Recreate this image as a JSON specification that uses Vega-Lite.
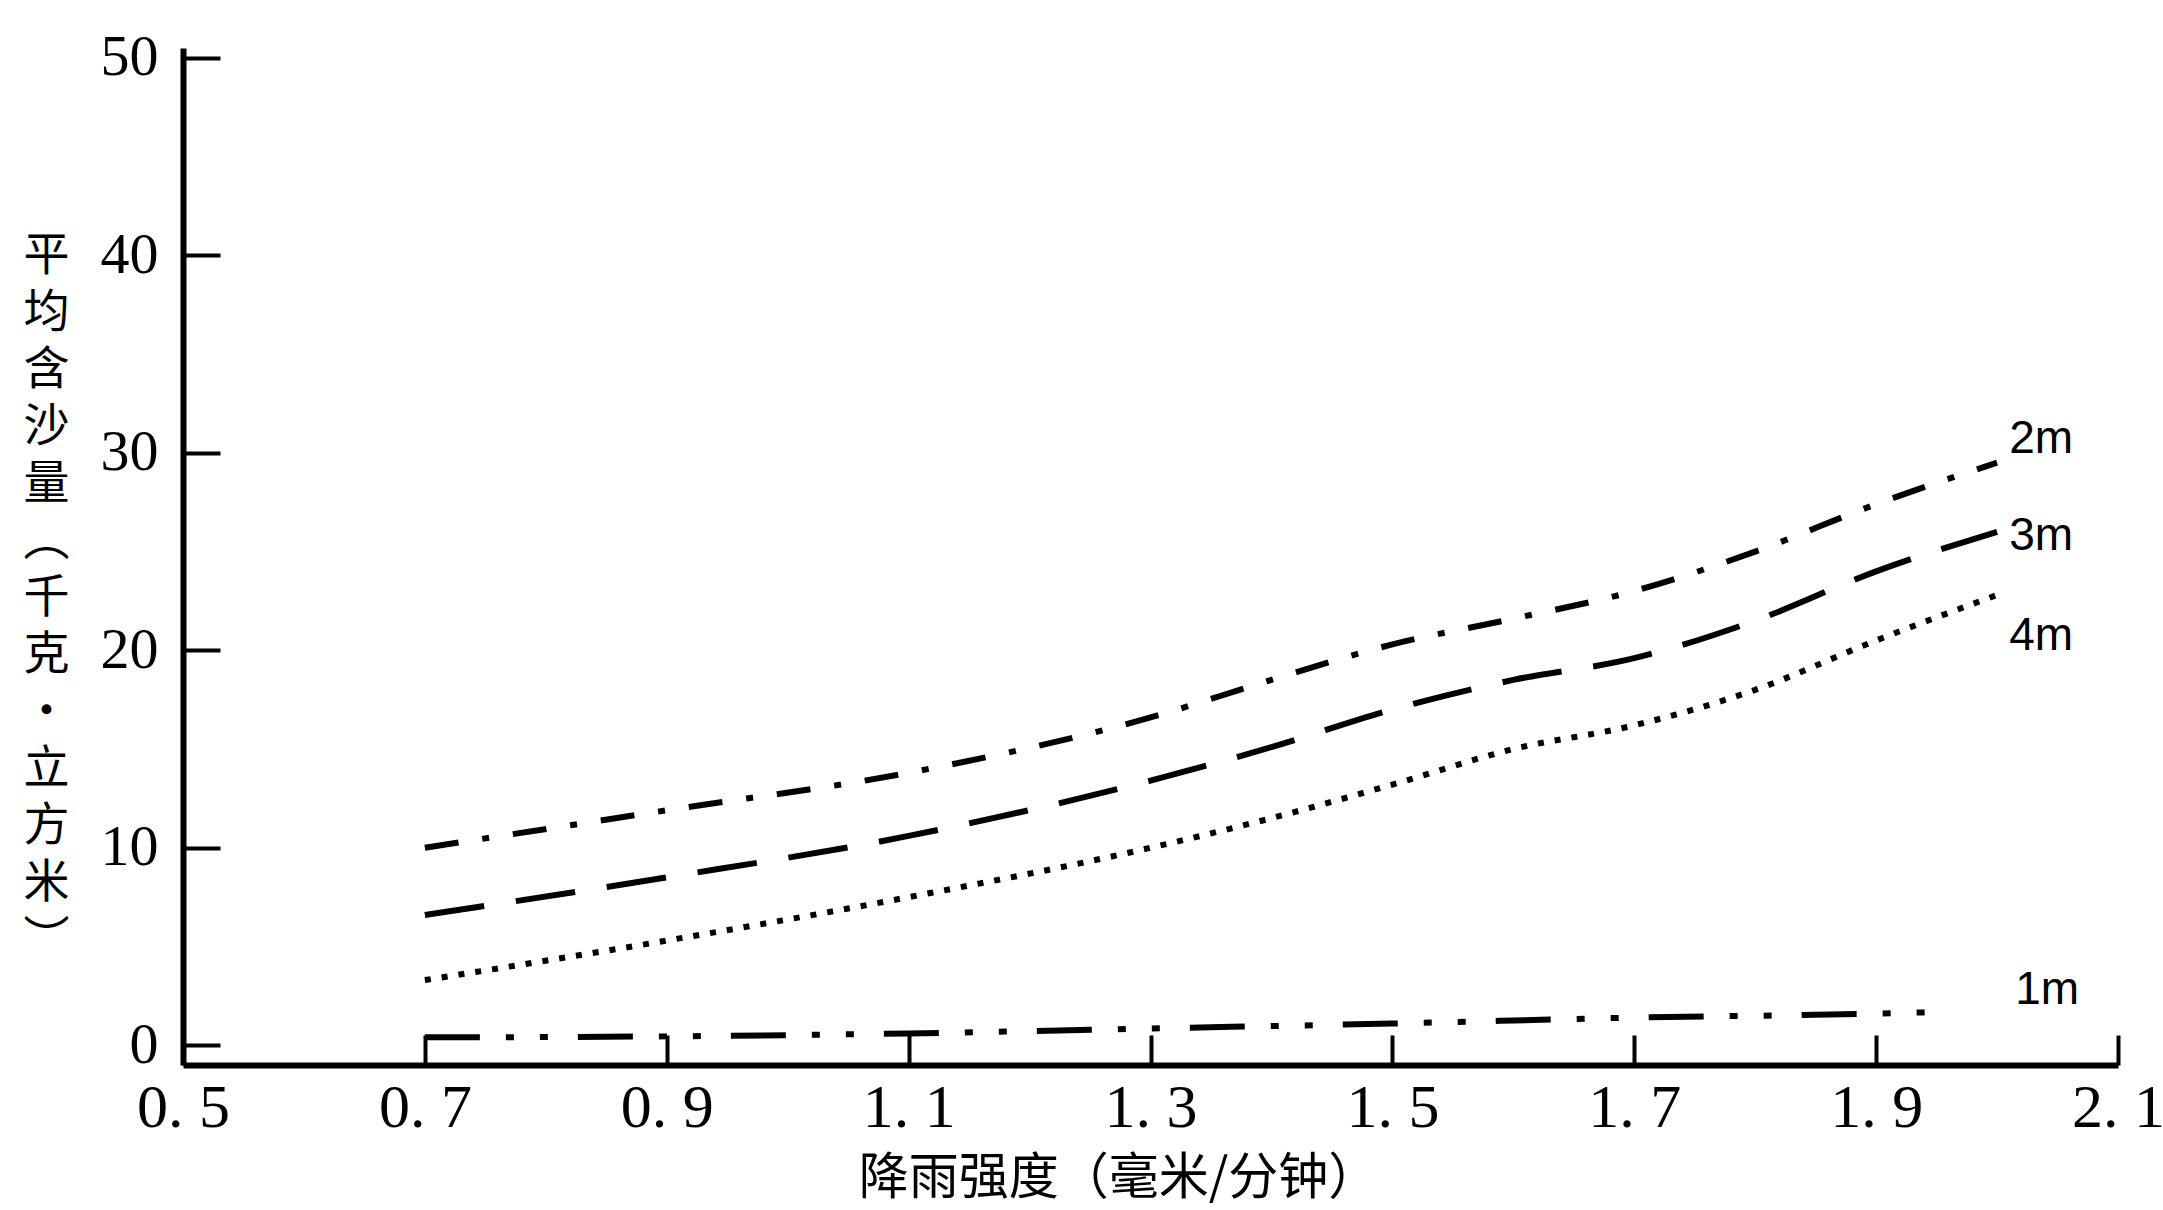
{
  "$schema": "https://vega.github.io/schema/vega-lite/v6.json",
  "autosize": "none",
  "width": 1935,
  "height": 1017,
  "padding": {"left": 183, "top": 48, "right": 45, "bottom": 145},
  "background": "white",
  "config": {
    "view": {"stroke": null},
    "axis": {"grid": false, "domainColor": "black", "tickColor": "black", "labelColor": "black", "titleColor": "black"}
  },
  "datasets": {
    "curves": [
      {"slope": "2m", "intensity": 0.7, "sediment": 10.0},
      {"slope": "2m", "intensity": 0.9, "sediment": 11.9},
      {"slope": "2m", "intensity": 1.1, "sediment": 13.8},
      {"slope": "2m", "intensity": 1.3, "sediment": 16.6},
      {"slope": "2m", "intensity": 1.4, "sediment": 18.5},
      {"slope": "2m", "intensity": 1.5, "sediment": 20.3},
      {"slope": "2m", "intensity": 1.6, "sediment": 21.6},
      {"slope": "2m", "intensity": 1.7, "sediment": 23.0},
      {"slope": "2m", "intensity": 1.8, "sediment": 25.0},
      {"slope": "2m", "intensity": 1.9, "sediment": 27.4},
      {"slope": "2m", "intensity": 2.0, "sediment": 29.5},
      {"slope": "3m", "intensity": 0.7, "sediment": 6.6},
      {"slope": "3m", "intensity": 0.9, "sediment": 8.5},
      {"slope": "3m", "intensity": 1.1, "sediment": 10.6},
      {"slope": "3m", "intensity": 1.3, "sediment": 13.4},
      {"slope": "3m", "intensity": 1.4, "sediment": 15.1},
      {"slope": "3m", "intensity": 1.5, "sediment": 17.0},
      {"slope": "3m", "intensity": 1.6, "sediment": 18.5},
      {"slope": "3m", "intensity": 1.7, "sediment": 19.6},
      {"slope": "3m", "intensity": 1.8, "sediment": 21.5},
      {"slope": "3m", "intensity": 1.9, "sediment": 24.0},
      {"slope": "3m", "intensity": 2.0, "sediment": 26.0},
      {"slope": "4m", "intensity": 0.7, "sediment": 3.3},
      {"slope": "4m", "intensity": 0.9, "sediment": 5.3},
      {"slope": "4m", "intensity": 1.1, "sediment": 7.5},
      {"slope": "4m", "intensity": 1.3, "sediment": 10.0},
      {"slope": "4m", "intensity": 1.4, "sediment": 11.5},
      {"slope": "4m", "intensity": 1.5, "sediment": 13.2},
      {"slope": "4m", "intensity": 1.6, "sediment": 15.0},
      {"slope": "4m", "intensity": 1.7, "sediment": 16.2},
      {"slope": "4m", "intensity": 1.8, "sediment": 18.0},
      {"slope": "4m", "intensity": 1.9, "sediment": 20.5},
      {"slope": "4m", "intensity": 2.0, "sediment": 22.8},
      {"slope": "1m", "intensity": 0.7, "sediment": 0.4},
      {"slope": "1m", "intensity": 0.9, "sediment": 0.45},
      {"slope": "1m", "intensity": 1.1, "sediment": 0.6},
      {"slope": "1m", "intensity": 1.3, "sediment": 0.85},
      {"slope": "1m", "intensity": 1.5, "sediment": 1.1},
      {"slope": "1m", "intensity": 1.7, "sediment": 1.4},
      {"slope": "1m", "intensity": 1.9, "sediment": 1.6},
      {"slope": "1m", "intensity": 1.96, "sediment": 1.7}
    ],
    "labels": [
      {"text": "2m", "intensity": 2.01, "sediment": 30.7},
      {"text": "3m", "intensity": 2.01, "sediment": 25.8},
      {"text": "4m", "intensity": 2.01, "sediment": 20.7},
      {"text": "1m", "intensity": 2.015, "sediment": 2.8}
    ]
  },
  "layer": [
    {
      "data": {"name": "curves"},
      "mark": {"type": "line", "color": "black", "strokeWidth": 6, "strokeCap": "butt", "interpolate": "monotone"},
      "encoding": {
        "x": {
          "field": "intensity", "type": "quantitative",
          "scale": {"domain": [0.5, 2.1], "nice": false, "zero": false},
          "axis": {
            "values": [0.5, 0.7, 0.9, 1.1, 1.3, 1.5, 1.7, 1.9, 2.1],
            "labelExpr": "replace(format(datum.value, '.1f'), '.', '. ')",
            "labelFont": "Liberation Serif", "labelFontSize": 62, "labelPadding": 42,
            "labelFlush": false, "labelOverlap": false,
            "domainWidth": 6, "tickSize": -30, "tickWidth": 4,
            "title": "降雨强度（毫米/分钟）",
            "titleFont": "Noto Sans CJK SC", "titleFontSize": 50, "titleFontWeight": "normal",
            "titleBaseline": "middle", "titleAnchor": "start", "titleAlign": "center",
            "titleX": 935, "titleY": 113
          }
        },
        "y": {
          "field": "sediment", "type": "quantitative",
          "scale": {"domain": [-1, 50.5], "nice": false, "zero": false},
          "axis": {
            "values": [0, 10, 20, 30, 40, 50],
            "labelFont": "Liberation Serif", "labelFontSize": 58, "labelPadding": 62,
            "domainWidth": 6, "tickSize": -37, "tickWidth": 4,
            "title": ["平", "均", "含", "沙", "量", "︵", "千", "克", "·", "立", "方", "米", "︶"],
            "titleFont": "Noto Sans CJK SC", "titleFontSize": 46, "titleFontWeight": "normal",
            "titleLineHeight": 57, "titleAngle": 0, "titleAlign": "center", "titleBaseline": "top",
            "titleX": -137, "titleY": 185
          }
        },
        "detail": {"field": "slope"},
        "strokeDash": {
          "field": "slope", "type": "nominal",
          "scale": {"domain": ["2m", "3m", "4m", "1m"], "range": [[34, 24, 7, 24], [60, 32], [6, 11], [55, 26, 8, 26, 8, 30]]},
          "legend": null
        }
      }
    },
    {
      "data": {"name": "labels"},
      "mark": {"type": "text", "align": "left", "baseline": "middle", "font": "Liberation Sans Narrow, Liberation Sans", "fontSize": 46, "color": "black"},
      "encoding": {
        "x": {"field": "intensity", "type": "quantitative"},
        "y": {"field": "sediment", "type": "quantitative"},
        "text": {"field": "text"}
      }
    }
  ]
}
